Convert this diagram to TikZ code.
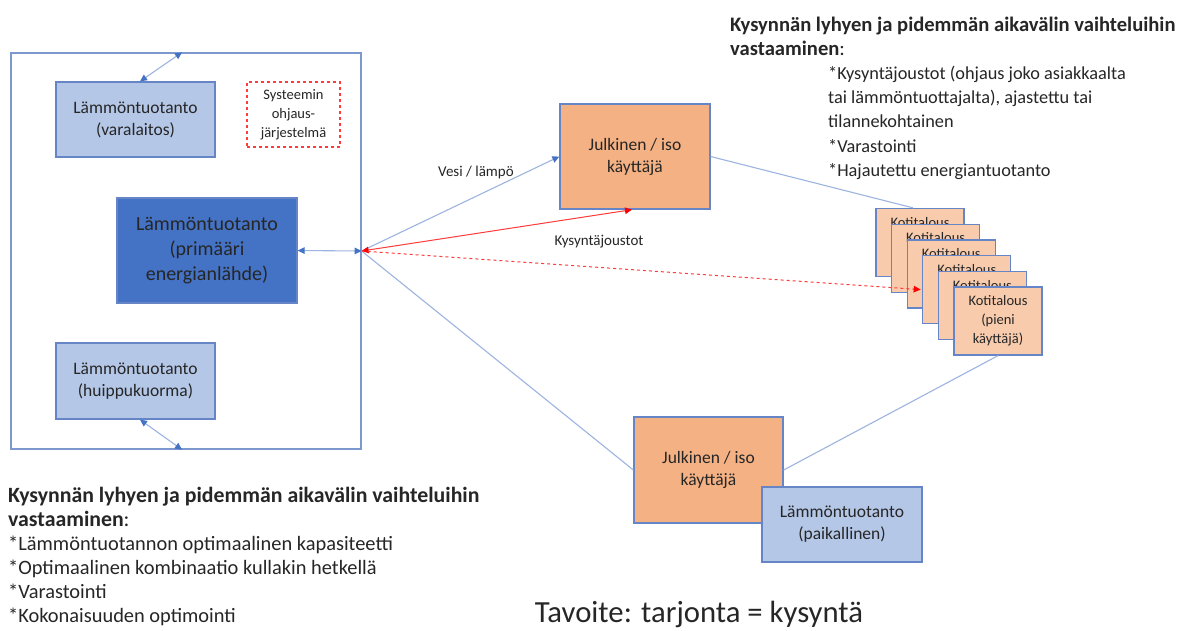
\documentclass[tikz,border=0pt]{standalone}
\usepackage{fontspec}
\setmainfont{Carlito}
\usetikzlibrary{arrows.meta,calc}
\definecolor{lightblue}{HTML}{B4C7E7}
\definecolor{primblue}{HTML}{4472C4}
\definecolor{edgeblue}{HTML}{6685C6}
\definecolor{linkblue}{HTML}{9DB4E0}
\definecolor{orangefill}{HTML}{F4B183}
\definecolor{peach}{HTML}{F8CBAD}
\definecolor{txt}{HTML}{262626}
\definecolor{redline}{HTML}{FF3B3B}
\tikzset{
  bt/.tip={Triangle[length=7pt,width=6.5pt,color=primblue]},
  rt/.tip={Triangle[length=7pt,width=6.5pt,color=red]},
  box/.style={draw=edgeblue, line width=1.3pt, align=center, text=txt, inner sep=0pt},
  prodbox/.style={box, fill=lightblue, minimum width=159pt, minimum height=75pt,
    font=\fontsize{17.5}{22}\selectfont},
  userbox/.style={box, fill=orangefill, font=\fontsize{17.5}{22}\selectfont},
  homecard/.style={box, fill=peach, minimum width=88pt, minimum height=68pt,
    font=\fontsize{14.5}{19}\selectfont},
  link/.style={draw=linkblue, line width=1.1pt},
  twoway/.style={link, bt-bt},
  demand/.style={draw=redline, line width=1pt},
  lbl/.style={text=txt, font=\fontsize{15}{18}\selectfont, inner sep=0pt},
  para/.style={text=txt, align=left, inner sep=0pt, anchor=north west},
}
\begin{document}
\begin{tikzpicture}[x=1pt,y=-1pt]
\path[use as bounding box, fill=white] (0,0) rectangle (1183,630);

% district heating system frame
\node[draw=edgeblue!85, line width=1.3pt, minimum width=350pt, minimum height=396pt, inner sep=0pt] (sys) at (186,251) {};

\node[prodbox] (var) at (135.5,119.5) {Lämmöntuotanto\\(varalaitos)};
\node[prodbox, minimum height=76pt] (peak) at (135.5,381) {Lämmöntuotanto\\(huippukuorma)};
\node[box, fill=primblue, minimum width=180pt, minimum height=105pt,
  font=\fontsize{20}{25}\selectfont, text=black!85] (prim) at (207,250.5)
  {Lämmöntuotanto\\(primääri\\energianlähde)};
\node[draw=redline, dashed, line width=1.1pt, minimum width=93pt, minimum height=65pt,
  align=center, text=txt, inner sep=0pt, font=\fontsize{14.5}{19}\selectfont] (ctrl)
  at (293.5,114.5) {Systeemin\\ohjaus-\\järjestelmä};

% links inside the frame
\draw[twoway] ([xshift=4.5pt]var.north) -- ([xshift=-4pt]sys.north);
\draw[twoway] ([xshift=4.5pt]peak.south) -- ([xshift=-4pt]sys.south);
\draw[twoway] (prim.east) -- (sys.east);

% consumers
\node[userbox, minimum width=150pt, minimum height=105pt] (jul1) at (635,156.5) {Julkinen / iso\\käyttäjä};
\node[userbox, minimum width=149pt, minimum height=106pt] (jul2) at (708.5,470) {Julkinen / iso\\käyttäjä};

% households, back to front
\foreach \i in {1,2,3}{
  \node[homecard] (c\i) at ({920+15.6*(\i-1)},{242.5+15.7*(\i-1)}) {Kotitalous\\(pieni\\käyttäjä)};
}
\foreach \i in {4,5,6}{
  \node[homecard] (c\i) at ({920+15.6*(\i-1)},{242.5+15.7*(\i-1)}) {Kotitalous\\(pieni\\käyttäjä)};
}

% network connections
\draw[link] (sys.east) -- (jul2.west);
\draw[link] (jul1.east) -- ([xshift=-7pt]c1.north);
\draw[link] (c6.south) -- (jul2.east);
\draw[link, -bt] (sys.east) -- (jul1.west);
\node[lbl] (water) at (476,172) {Vesi / lämpö};
\draw[demand, rt-rt] (sys.east) -- ([xshift=-3pt]jul1.south);
\node[lbl] (flex) at (599,242) {Kysyntäjoustot};
% demand response signal to the households
\draw[demand, dashed, -rt] (sys.east) -- ([xshift=-1.5pt]c4.west);

\node[prodbox, minimum width=160pt] (loc) at (842,524.5) {Lämmöntuotanto\\(paikallinen)};

% text blocks
\node[para, font=\fontsize{20.6}{24.4}\selectfont\bfseries] (trh) at (730,13.9)
  {\strut Kysynnän lyhyen ja pidemmän aikavälin vaihteluihin\\vastaaminen{\mdseries:}};
\node[para, font=\fontsize{18.3}{24.4}\selectfont] (trb) at (828,61.9)
  {\strut *Kysyntäjoustot (ohjaus joko asiakkaalta\\tai lämmöntuottajalta), ajastettu tai\\tilannekohtainen\\*Varastointi\\*Hajautettu energiantuotanto};
\node[para, font=\fontsize{21.8}{24}\selectfont\bfseries] (blh) at (8,485.2)
  {\strut Kysynnän lyhyen ja pidemmän aikavälin vaihteluihin\\vastaaminen{\mdseries:}};
\node[para, font=\fontsize{20.4}{24}\selectfont] (blb) at (8,533.2)
  {\strut *Lämmöntuotannon optimaalinen kapasiteetti\\*Optimaalinen kombinaatio kullakin hetkellä\\*Varastointi\\*Kokonaisuuden optimointi};
\node[text=txt, inner sep=0pt, anchor=base, font=\fontsize{30.7}{34}\selectfont] (goal) at (699,622) {Tavoite: tarjonta = kysyntä};
\end{tikzpicture}
\end{document}
